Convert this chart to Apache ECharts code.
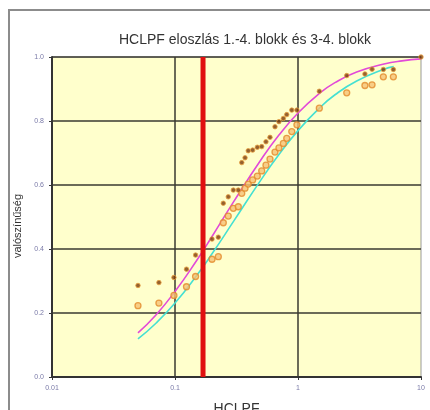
<!DOCTYPE html>
<html><head><meta charset="utf-8">
<script src="https://cdn.jsdelivr.net/npm/echarts@6/dist/echarts.min.js"></script>
<style>html,body{margin:0;padding:0;background:#fff}#c{width:430px;height:410px}</style>
</head><body><div id="c"></div>
<script>
const titleText = 'HCLPF eloszlás 1.-4. blokk és 3-4. blokk';
const xName = 'HCLPF';
const yName = 'valószínűség';
const xTicks = [0.01, 0.1, 1, 10];
const yTicks = [0, 0.2, 0.4, 0.6, 0.8, 1.0];

// HCLPF values of the empirical points
const pointX = [0.05,0.074,0.098,0.124,0.147,0.2,0.225,0.247,0.271,0.298,0.327,0.349,0.371,0.394,0.428,0.467,0.507,0.549,0.592,0.65,0.70,0.76,0.81,0.89,0.98,1.49,2.49,3.5,4.0,4.94,5.96,10];
// 1.-4. blokk (dark dots)
const darkY = [0.286,0.295,0.311,0.337,0.381,0.431,0.437,0.543,0.563,0.584,0.584,0.67,0.685,0.707,0.709,0.718,0.72,0.735,0.749,0.782,0.798,0.808,0.82,0.834,0.834,0.893,0.942,0.947,0.962,0.961,0.961,1.0];
// 3-4. blokk (orange circles)
const orangeY = [0.223,0.231,0.255,0.282,0.314,0.368,0.376,0.482,0.503,0.527,0.532,0.574,0.59,0.603,0.616,0.628,0.644,0.662,0.681,0.703,0.716,0.73,0.746,0.767,0.788,0.84,0.888,0.911,0.913,0.938,0.938];

// fitted curves
const magX = [0.05,0.07,0.1,0.15,0.2,0.3,0.5,0.7,1,1.5,2,3,5,7,10];
const magY = [0.138,0.194,0.267,0.364,0.439,0.548,0.679,0.756,0.825,0.887,0.920,0.953,0.978,0.988,0.994];
const cyanX = [0.05,0.07,0.1,0.15,0.2,0.3,0.5,0.7,1,1.5,2,3,5,6];
const cyanY = [0.119,0.168,0.231,0.317,0.385,0.487,0.616,0.695,0.770,0.841,0.882,0.925,0.962,0.970];

// red vertical marker
const redX = 0.169;
const redY = [0, 1];

const zip = (xs, ys) => ys.map((y, i) => [xs[i], y]);

const chart = echarts.init(document.getElementById('c'));
chart.setOption({
  backgroundColor: '#ffffff',
  animation: false,
  title: {
    text: titleText, left: 240, top: 28, textAlign: 'center',
    textStyle: { fontFamily: 'Liberation Sans', fontSize: 14, fontWeight: 'normal', color: '#333' }
  },
  graphic: [{
    type: 'rect', shape: { x: 9, y: 10, width: 440, height: 420 },
    style: { fill: 'none', stroke: '#8c8c8c', lineWidth: 2 }, silent: true, z: -1
  }],
  grid: {
    left: 52, right: 9, top: 57, bottom: 33, show: true, containLabel: false,
    outerBoundsMode: 'none',
    backgroundColor: '#FFFFCC', borderColor: '#9a9a9a', borderWidth: 1
  },
  xAxis: {
    type: 'log', logBase: 10, min: xTicks[0], max: xTicks[xTicks.length - 1],
    name: xName, nameLocation: 'middle', nameGap: 25,
    nameTextStyle: { fontFamily: 'Liberation Sans', fontSize: 14, color: '#333' },
    axisLine: { lineStyle: { color: '#333', width: 2 } },
    axisTick: { show: true, length: 3, lineStyle: { color: '#333' } },
    minorTick: { show: false },
    axisLabel: { fontSize: 7, color: '#7a7aa8', margin: 8, formatter: v => String(v) },
    splitLine: { show: true, showMaxLine: false, lineStyle: { color: '#3a3a30', width: 1.5 } }
  },
  yAxis: {
    type: 'value', min: 0, max: 1, interval: 0.2,
    name: yName, nameLocation: 'middle', nameGap: 26,
    nameTextStyle: { fontFamily: 'Liberation Sans', fontSize: 11, color: '#333', padding: [0, 18, 0, 0] },
    axisLine: { show: true, lineStyle: { color: '#333', width: 2 } },
    axisTick: { show: true, length: 3, lineStyle: { color: '#333' } },
    axisLabel: { fontSize: 7, color: '#7a7aa8', margin: 8, formatter: v => v.toFixed(1) },
    splitLine: { show: true, lineStyle: { color: '#3a3a30', width: 1.5 } }
  },
  series: [
    {
      type: 'line', data: zip(magX, magY), smooth: true, showSymbol: false,
      lineStyle: { color: '#E24AD8', width: 1.6 }, z: 3
    },
    {
      type: 'line', data: zip(cyanX, cyanY), smooth: true, showSymbol: false,
      lineStyle: { color: '#45E0D2', width: 1.6 }, z: 3
    },
    {
      type: 'scatter', data: zip(pointX, orangeY), symbol: 'circle', symbolSize: 6,
      itemStyle: { color: '#F6C274', borderColor: '#E2892A', borderWidth: 1.3 }, z: 4
    },
    {
      type: 'scatter', data: zip(pointX, darkY), symbol: 'circle', symbolSize: 4.5,
      itemStyle: { color: '#7A3A08', borderColor: '#E9A040', borderWidth: 1 }, z: 5
    },
    {
      type: 'line', data: redY.map(y => [redX, y]), showSymbol: false,
      lineStyle: { color: '#E01010', width: 5 }, z: 6
    }
  ]
});
</script>
</body></html>
